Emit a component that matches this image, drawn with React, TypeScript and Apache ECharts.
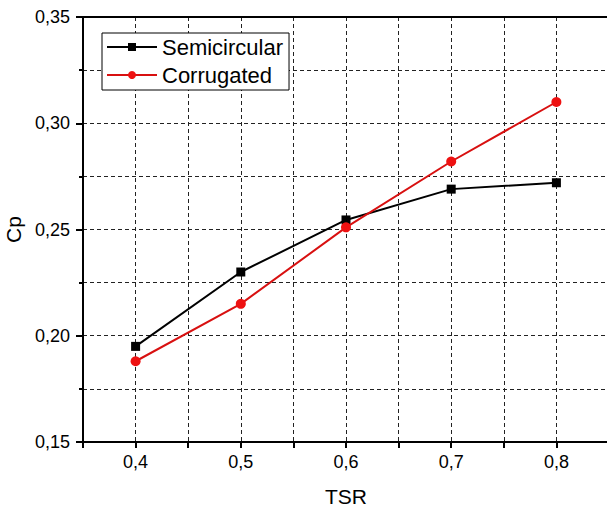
import React, { useEffect, useRef } from "react";
import * as echarts from "echarts";

const tsr = [0.4, 0.5, 0.6, 0.7, 0.8];
const semicircular = [0.195, 0.23, 0.2545, 0.269, 0.272];
const corrugated = [0.188, 0.215, 0.251, 0.282, 0.31];

const fmt = (v: number, d: number) => v.toFixed(d).replace(".", ",");

export default function App() {
  const ref = useRef<HTMLDivElement>(null);
  useEffect(() => {
    const chart = echarts.init(ref.current!, undefined, { renderer: "svg" });
    const font = "Liberation Sans, Arial, sans-serif";
    const dashLine = { type: [4, 3] as any, color: "#222", width: 1 };
    chart.setOption({
      animation: false,
      backgroundColor: "#fff",
      textStyle: { fontFamily: font },
      grid: {
        left: 83,
        top: 17,
        width: 526,
        height: 425,
        containLabel: false,
        outerBoundsMode: "none",
      } as any,
      legend: {
        left: 102,
        top: 33,
        orient: "vertical",
        itemWidth: 50,
        itemHeight: 10,
        itemGap: 6,
        padding: [3, 6, 4, 4],
        borderColor: "#000",
        borderWidth: 1,
        backgroundColor: "#fff",
        textStyle: { fontSize: 22, color: "#000", fontFamily: font },
        data: ["Semicircular", "Corrugated"],
      },
      xAxis: [
        {
          type: "value",
          min: 0.35,
          max: 0.85,
          interval: 0.05,
          name: "TSR",
          nameLocation: "middle",
          nameGap: 44,
          nameMoveOverlap: false,
          nameTextStyle: { fontSize: 21, color: "#000" },
          axisLine: { show: true, onZero: false, lineStyle: { color: "#000", width: 2 } },
          axisTick: { show: true, length: 6, lineStyle: { color: "#000", width: 2 } },
          axisLabel: {
            fontSize: 18,
            color: "#000",
            margin: 11,
            formatter: (v: number) => {
              const r = Math.round(v * 100);
              return r % 10 === 0 ? fmt(v, 1) : "";
            },
          },
          splitLine: { show: true, lineStyle: dashLine },
        },
        {
          type: "value",
          position: "top",
          min: 0.35,
          max: 0.85,
          axisLine: { show: true, onZero: false, lineStyle: { color: "#000", width: 2 } },
          axisTick: { show: false },
          axisLabel: { show: false },
          splitLine: { show: false },
        },
      ],
      yAxis: {
        type: "value",
        min: 0.15,
        max: 0.35,
        interval: 0.05,
        name: "Cp",
        nameLocation: "middle",
        nameGap: 59,
        nameMoveOverlap: false,
        nameTextStyle: { fontSize: 21, color: "#000" },
        axisLine: { show: true, onZero: false, lineStyle: { color: "#000", width: 2 } },
        axisTick: { show: true, length: 7, lineStyle: { color: "#000", width: 2 } },
        minorTick: { show: true, splitNumber: 2, length: 4, lineStyle: { color: "#000", width: 2 } },
        minorSplitLine: { show: true, lineStyle: dashLine },
        axisLabel: {
          fontSize: 18,
          color: "#000",
          margin: 13,
          formatter: (v: number) => fmt(v, 2),
        },
        splitLine: { show: true, lineStyle: dashLine },
      },
      series: [
        {
          name: "Semicircular",
          type: "line",
          data: tsr.map((x, i) => [x, semicircular[i]]),
          symbol: "rect",
          symbolSize: 9,
          itemStyle: { color: "#000" },
          lineStyle: { color: "#000", width: 2 },
          z: 3,
        },
        {
          name: "Corrugated",
          type: "line",
          data: tsr.map((x, i) => [x, corrugated[i]]),
          symbol: "circle",
          symbolSize: 10,
          itemStyle: { color: "#ee1111" },
          lineStyle: { color: "#d81010", width: 2 },
          z: 4,
        },
      ],
    });
    return () => chart.dispose();
  }, []);
  return (
    <div
      ref={ref}
      style={{ position: "absolute", left: 0, top: 0, width: 607, height: 508 }}
    />
  );
}
